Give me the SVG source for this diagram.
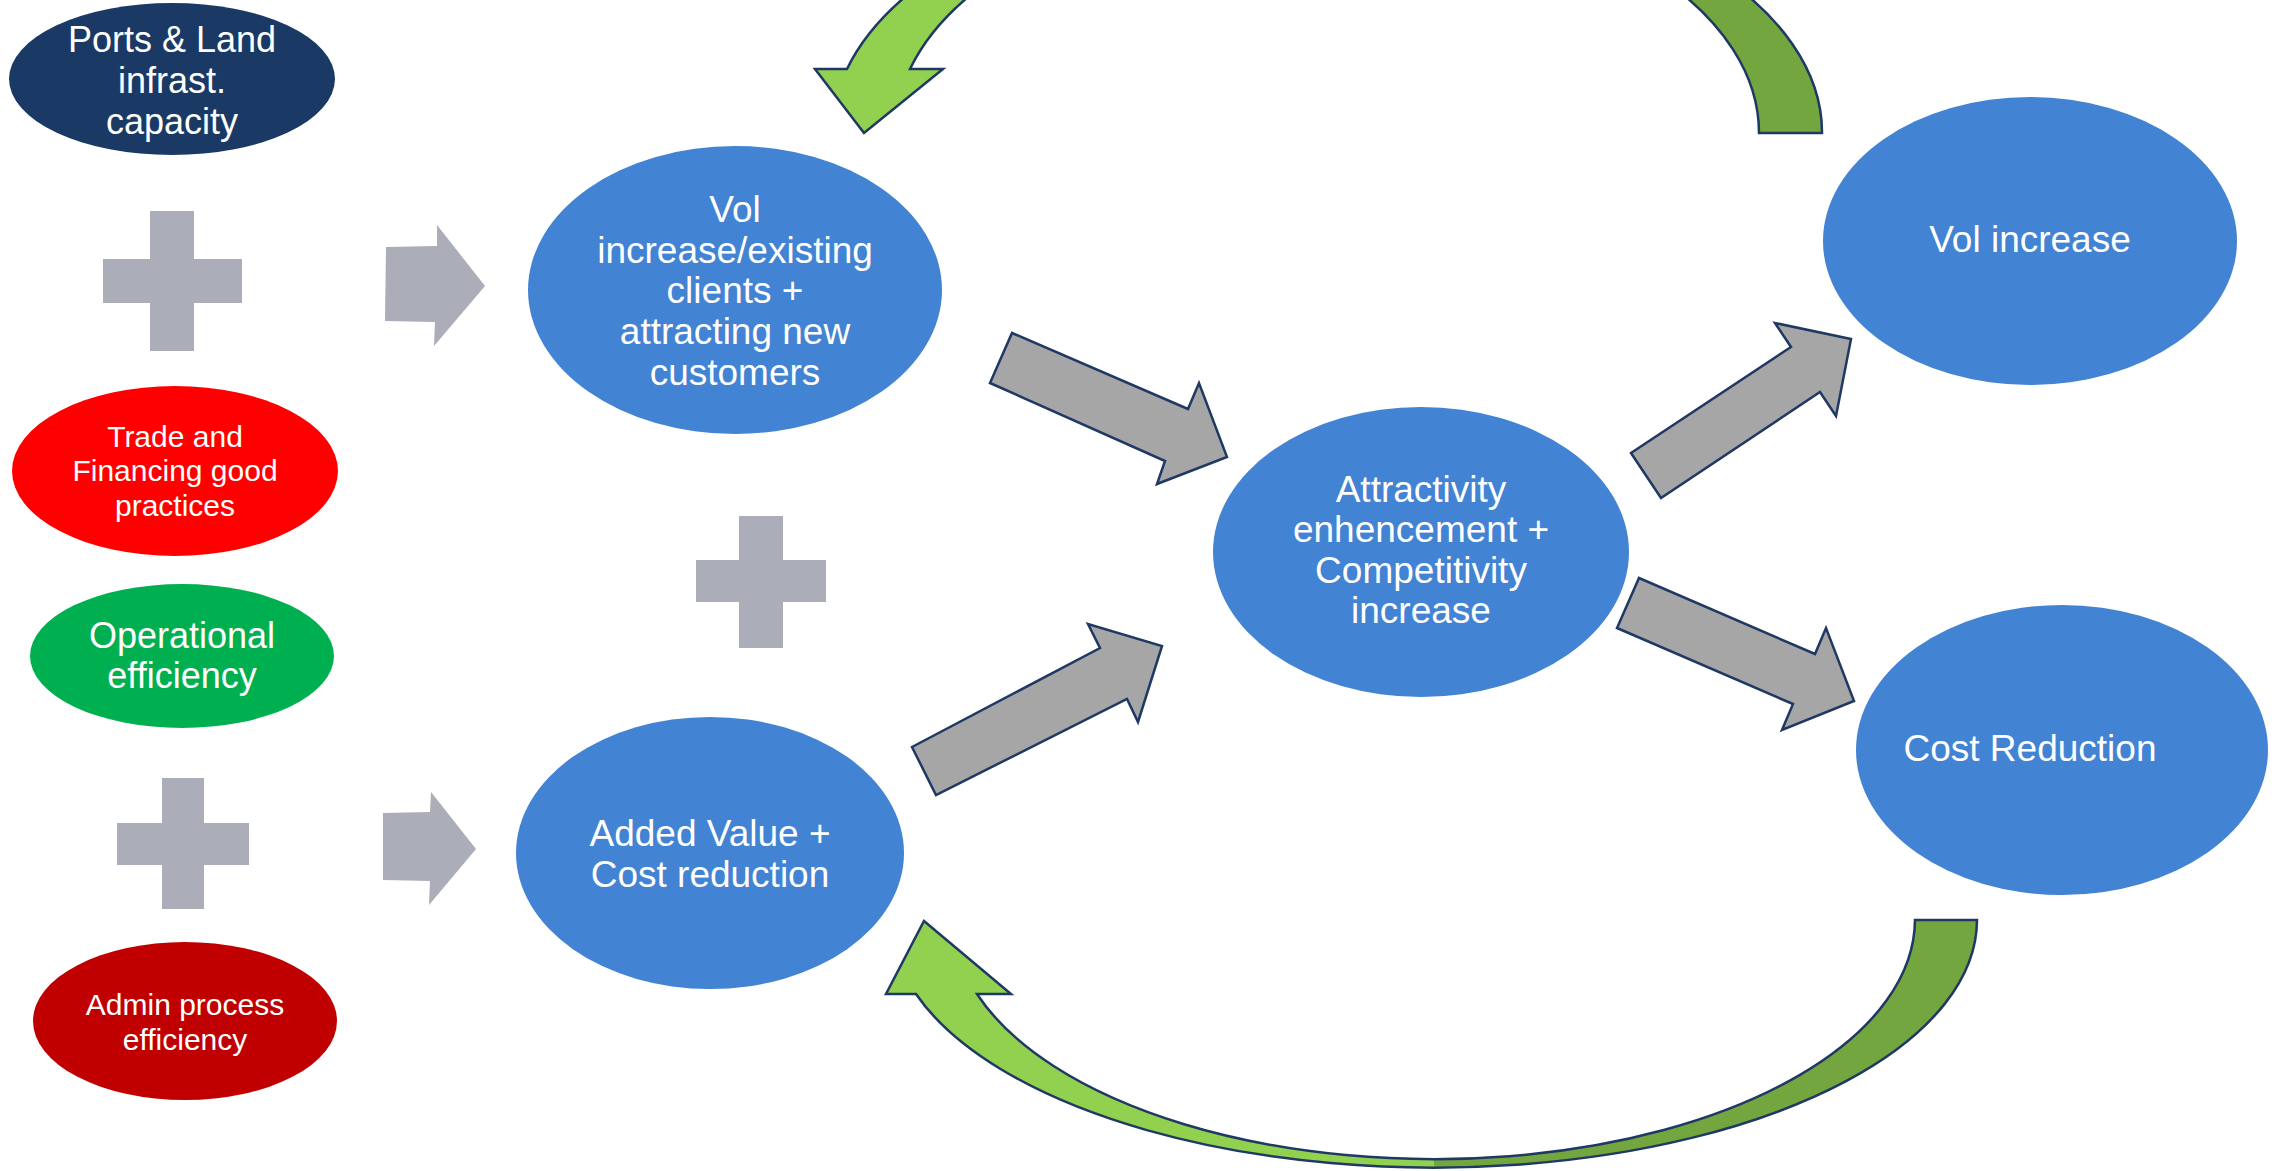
<svg xmlns="http://www.w3.org/2000/svg" width="2287" height="1171" viewBox="0 0 2287 1171">
<defs>
<style>
.t{font-family:"Liberation Sans",Arial,sans-serif;fill:#fff;text-anchor:middle}
.b{font-size:37px}
.m{font-size:36px}
.s{font-size:30px}
.plus{fill:#ABADB8}
.garr{fill:#A6A6A6;stroke:#1F3864;stroke-width:2.5;stroke-linejoin:miter}
.blue{fill:#4283D3}
.curv{stroke:#1F3864;stroke-width:2.5;stroke-linejoin:miter}
</style>
<linearGradient id="gTop" gradientUnits="userSpaceOnUse" x1="800" y1="0" x2="1854" y2="0">
<stop offset="0" stop-color="#92D050"/><stop offset="0.5" stop-color="#92D050"/><stop offset="0.5" stop-color="#74A63F"/><stop offset="1" stop-color="#74A63F"/>
</linearGradient>
<linearGradient id="gBot" gradientUnits="userSpaceOnUse" x1="888" y1="0" x2="1980" y2="0">
<stop offset="0" stop-color="#92D050"/><stop offset="0.5" stop-color="#92D050"/><stop offset="0.5" stop-color="#74A63F"/><stop offset="1" stop-color="#74A63F"/>
</linearGradient>
</defs>
<rect width="2287" height="1171" fill="#fff"/>

<g id="connectors">
<path class="curv" fill="url(#gTop)" d="M1822,133 A495,259 0 0 0 847,69 L815,69 L864,133 L943,69 L910,69 A432,244 0 0 1 1759,133 Z"/>
<path class="curv" fill="url(#gBot)" d="M1977,920 A543,248 0 0 1 916,994 L886,994 L924,921 L1011,994 L977,994 A481,240 0 0 0 1915,920 Z"/>
<polygon class="plus" points="386,247 437,246 437,225 485,286 434,346 435,322 385,321"/>
<polygon class="plus" points="383,813 430,812 431,792 476,849 429,905 430,881 383,880"/>
<polygon class="garr" points="1012,333 1188,409 1199,383 1227,457 1157,484 1165,461 990,383"/>
<polygon class="garr" points="912,747 1100,648 1088,624 1162,646 1138,722 1127,699 936,795"/>
<polygon class="garr" points="1631,453 1791,347 1775,323 1851,339 1836,416 1820,392 1661,498"/>
<polygon class="garr" points="1639,578 1815,654 1826,628 1854,701 1782,730 1793,704 1617,628"/>
</g>

<g id="plus1"><polygon class="plus" points="150,211 194,211 194,259 242,259 242,303 194,303 194,351 150,351 150,303 103,303 103,259 150,259"/></g>
<g id="plus2"><polygon class="plus" points="739,516 783,516 783,560 826,560 826,602 783,602 783,648 739,648 739,602 696,602 696,560 739,560"/></g>
<g id="plus3"><polygon class="plus" points="162,778 204,778 204,823 249,823 249,865 204,865 204,909 162,909 162,865 117,865 117,823 162,823"/></g>

<g id="ports">
<ellipse cx="172" cy="79" rx="163" ry="76" fill="#1A3A65"/>
<text class="t m" x="172" y="52">Ports &amp; Land</text>
<text class="t m" x="172" y="93">infrast.</text>
<text class="t m" x="172" y="134">capacity</text>
</g>
<g id="trade">
<ellipse cx="175" cy="471" rx="163" ry="85" fill="#FF0000"/>
<text class="t s" x="175" y="447">Trade and</text>
<text class="t s" x="175" y="481">Financing good</text>
<text class="t s" x="175" y="516">practices</text>
</g>
<g id="operational">
<ellipse cx="182" cy="656" rx="152" ry="72" fill="#00B050"/>
<text class="t m" x="182" y="648">Operational</text>
<text class="t m" x="182" y="688">efficiency</text>
</g>
<g id="admin">
<ellipse cx="185" cy="1021" rx="152" ry="79" fill="#C00000"/>
<text class="t s" x="185" y="1015">Admin process</text>
<text class="t s" x="185" y="1050">efficiency</text>
</g>
<g id="volexisting">
<ellipse class="blue" cx="735" cy="290" rx="207" ry="144"/>
<text class="t b" x="735" y="222">Vol</text>
<text class="t b" x="735" y="263">increase/existing</text>
<text class="t b" x="735" y="303">clients +</text>
<text class="t b" x="735" y="344">attracting new</text>
<text class="t b" x="735" y="385">customers</text>
</g>
<g id="addedvalue">
<ellipse class="blue" cx="710" cy="853" rx="194" ry="136"/>
<text class="t b" x="710" y="846">Added Value +</text>
<text class="t b" x="710" y="887">Cost reduction</text>
</g>
<g id="attractivity">
<ellipse class="blue" cx="1421" cy="552" rx="208" ry="145"/>
<text class="t b" x="1421" y="502">Attractivity</text>
<text class="t b" x="1421" y="542">enhencement +</text>
<text class="t b" x="1421" y="583">Competitivity</text>
<text class="t b" x="1421" y="623">increase</text>
</g>
<g id="volincrease">
<ellipse class="blue" cx="2030" cy="241" rx="207" ry="144"/>
<text class="t b" x="2030" y="252">Vol increase</text>
</g>
<g id="costreduction">
<ellipse class="blue" cx="2062" cy="750" rx="206" ry="145"/>
<text class="t b" x="2030" y="761">Cost Reduction</text>
</g>
</svg>
